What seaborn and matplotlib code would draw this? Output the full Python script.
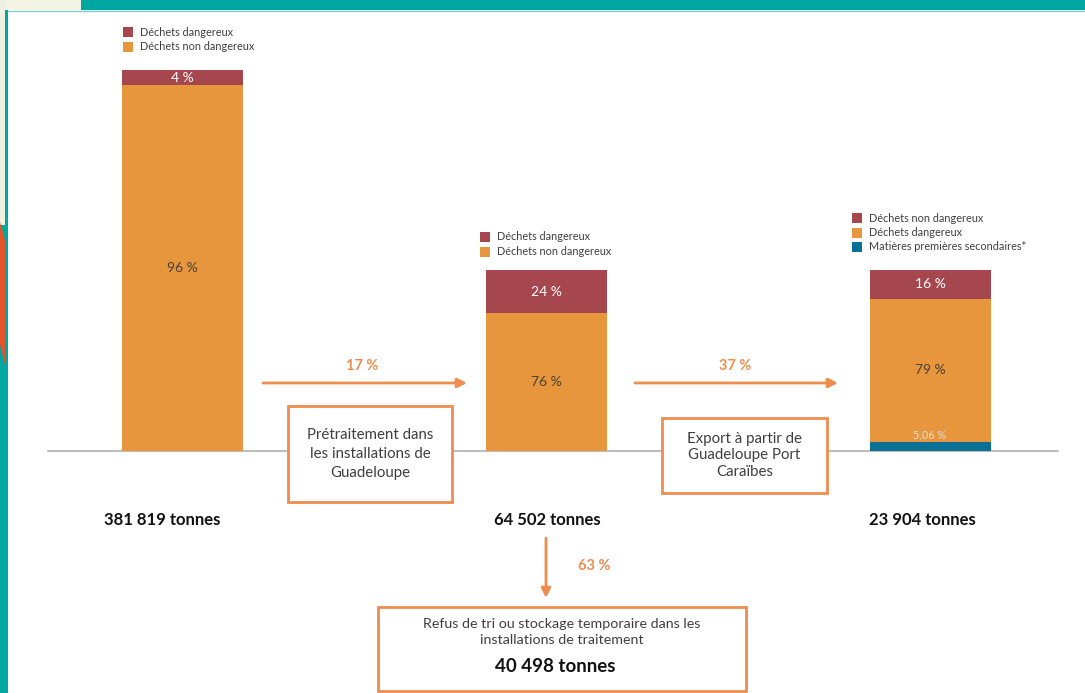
import matplotlib.pyplot as plt
import matplotlib.patches as mpatches
import seaborn as sns
import pandas as pd

# Données
stages = ["Collecte", "Prétraitement", "Export"]
tonnes_labels = ["381 819 tonnes", "64 502 tonnes", "23 904 tonnes"]
pct_red = [4, 24, 16]
pct_orange = [96, 76, 79]
pct_blue = [0, 0, 5.06]
legend_labels = [
    ["Déchets dangereux", "Déchets non dangereux"],
    ["Déchets dangereux", "Déchets non dangereux"],
    ["Déchets non dangereux", "Déchets dangereux", "Matières premières secondaires*"],
]
flow_labels = ["17 %", "37 %", "63 %"]
box_texts = [
    "Prétraitement dans\nles installations de\nGuadeloupe",
    "Export à partir de\nGuadeloupe Port\nCaraïbes",
]
refus_text = "Refus de tri ou stockage temporaire dans les\ninstallations de traitement"
refus_tonnes = "40 498 tonnes"

# Mise en page (pixels)
W, H = 1085, 693
BASE = 451
stage_x = [182, 546, 930]
bar_px = [381, 181, 181]
BAR_W = 121

RED = "#A6474F"
ORANGE = "#E8963D"
BLUE = "#0B7096"
LINE_OR = "#EE8D4E"
TEAL = "#00A6A0"
GREY_TXT = "#3F3F3F"


def Y(ypx):
    return BASE - ypx


def fmt_pct(v):
    return f"{v:g} %".replace(".", ",")


sns.set_theme(style="white")
plt.rcParams["font.family"] = ["Lato", "DejaVu Sans"]

fig = plt.figure(figsize=(W / 100, H / 100), dpi=100)
ax = fig.add_axes([0, 0, 1, 1])

df = pd.DataFrame({
    "stage": stages,
    "x": stage_x,
    "blue": [b / 100 * h for b, h in zip(pct_blue, bar_px)],
    "orange": [o / 100 * h for o, h in zip(pct_orange, bar_px)],
    "red": [r / 100 * h for r, h in zip(pct_red, bar_px)],
})
df["top_orange"] = df["blue"] + df["orange"]
df["top_red"] = df["top_orange"] + df["red"]

width = BAR_W / min(b - a for a, b in zip(stage_x, stage_x[1:]))
for col, color in [("top_red", RED), ("top_orange", ORANGE), ("blue", BLUE)]:
    sns.barplot(data=df, x="x", y=col, native_scale=True, width=width,
                color=color, saturation=1, linewidth=0, ax=ax, zorder=2)

ax.set_xlim(0, W)
ax.set_ylim(Y(H), Y(0))
ax.axis("off")

# ligne de base
ax.plot([48, 1058], [0, 0], color="#BDBDBD", lw=1.5, zorder=1)

# étiquettes de pourcentage et tonnages
tonnes_x = [162, 547, 922]
for i, row in df.iterrows():
    ax.text(row["x"], row["top_orange"] + row["red"] / 2, fmt_pct(pct_red[i]),
            ha="center", va="center", color="white", fontsize=10, zorder=4)
    ax.text(row["x"], row["blue"] + row["orange"] / 2, fmt_pct(pct_orange[i]),
            ha="center", va="center", color="#4A4038", fontsize=10, zorder=4)
    if pct_blue[i] > 0:
        ax.text(row["x"], row["blue"] + 7, fmt_pct(pct_blue[i]),
                ha="center", va="center", color="#E6E0DA", fontsize=7.8, zorder=4)
    ax.text(tonnes_x[i], Y(520), tonnes_labels[i], ha="center", va="center",
            fontsize=12, fontweight="bold", color="#111111")

# légendes
legend_pos = [(123, 32), (480, 237), (852, 218)]
legend_colors = [[RED, ORANGE], [RED, ORANGE], [RED, ORANGE, BLUE]]
for (lx, ly), labels, colors in zip(legend_pos, legend_labels, legend_colors):
    for k, (lab, c) in enumerate(zip(labels, colors)):
        yy = ly + k * 14.5
        ax.add_patch(mpatches.Rectangle((lx, Y(yy + 5)), 10, 10, fc=c, ec="none"))
        ax.text(lx + 17, Y(yy), lab, ha="left", va="center",
                fontsize=7.8, color=GREY_TXT)

# flèches
arrow_kw = dict(arrowstyle="-|>", color=LINE_OR, lw=2, mutation_scale=14,
                shrinkA=0, shrinkB=0)
ax.annotate("", xy=(467, Y(383)), xytext=(263, Y(383)), arrowprops=arrow_kw)
ax.annotate("", xy=(838, Y(383)), xytext=(635, Y(383)), arrowprops=arrow_kw)
ax.annotate("", xy=(546, Y(598)), xytext=(546, Y(538)), arrowprops=arrow_kw)
for (fx, fy), lab in zip([(362, 366), (735, 366), (594, 566)], flow_labels):
    ax.text(fx, Y(fy), lab, ha="center", va="center", fontsize=10.5,
            fontweight="bold", color=LINE_OR)

# encadrés
boxes = [(288, 406, 164, 96, 1.45), (662, 418, 165, 75, 1.2)]
for (bx, by, bw, bh, ls), txt in zip(boxes, box_texts):
    ax.add_patch(mpatches.Rectangle((bx, Y(by + bh)), bw, bh, fc="white",
                                    ec=LINE_OR, lw=2, zorder=3))
    ax.text(bx + bw / 2, Y(by + bh / 2), txt, ha="center", va="center",
            fontsize=10.8, color=GREY_TXT, linespacing=ls, zorder=4)

ax.add_patch(mpatches.Rectangle((378, Y(691)), 368, 84, fc="white",
                                ec=LINE_OR, lw=2, zorder=3, clip_on=False))
ax.text(562, Y(632), refus_text, ha="center", va="center", fontsize=10.3,
        color=GREY_TXT, linespacing=1.35, zorder=4)
ax.text(555, Y(667), refus_tonnes, ha="center", va="center", fontsize=13.5,
        fontweight="bold", color="#111111", zorder=4)

# cadre décoratif
ax.add_patch(mpatches.Rectangle((0, Y(10)), W, 10, fc=TEAL, ec="none", clip_on=False, zorder=5))
ax.add_patch(mpatches.Rectangle((0, Y(H)), 8, H, fc=TEAL, ec="none", clip_on=False, zorder=5))
ax.add_patch(mpatches.Rectangle((0, Y(10)), 81, 10, fc="#F3F4E4", ec="none", clip_on=False, zorder=6))
ax.add_patch(mpatches.Rectangle((0, Y(225)), 5, 225, fc="#EEF0E2", ec="none", clip_on=False, zorder=6))
ax.add_patch(mpatches.Polygon([(0, Y(222)), (5, Y(240)), (5, Y(365)), (0, Y(345))],
                              closed=True, fc="#E2552A", ec="none", clip_on=False, zorder=6))
ax.plot([8, W], [Y(11), Y(11)], color="#7FD3CF", lw=1, zorder=5)

fig.savefig("out.png", dpi=100)
